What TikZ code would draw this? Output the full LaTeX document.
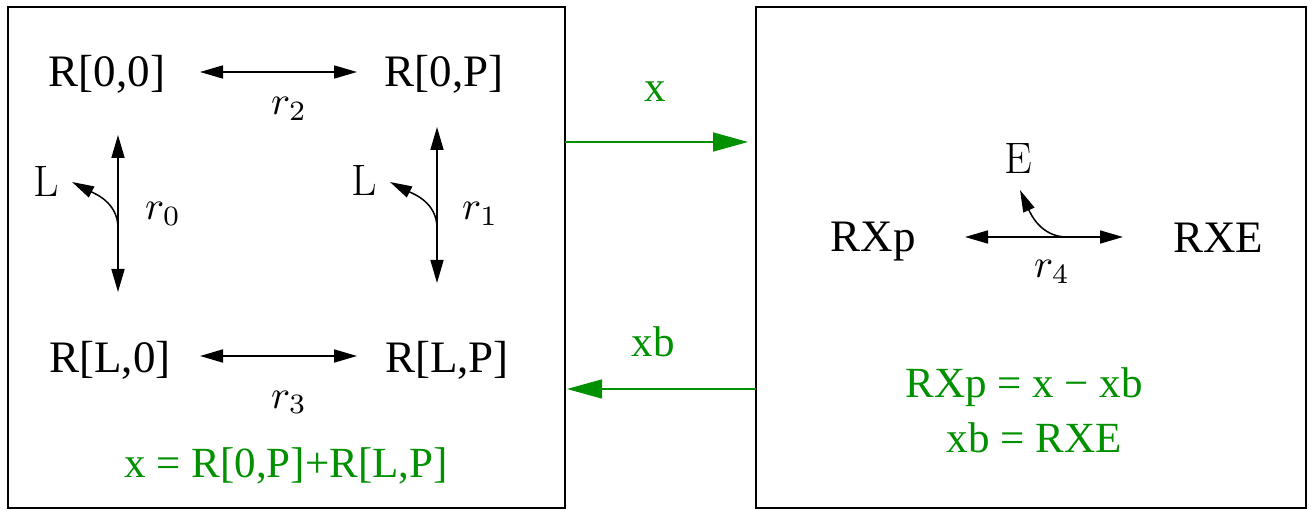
\documentclass[tikz,border=0pt]{standalone}
\usepackage{fontspec}
\setmainfont{Liberation Serif}
\newfontfamily\lmfont{Latin Modern Roman}
\usetikzlibrary{arrows.meta}
\definecolor{grn}{RGB}{0,144,0}
\newcommand{\rlabm}[1]{\scalebox{4}{$#1$}}
\tikzset{
  boxx/.style={draw, line width=1.4pt},
  blab/.style={font=\fontsize{45}{50}\selectfont, inner sep=0pt, anchor=base},
  glab/.style={text=grn, font=\fontsize{43}{48}\selectfont, inner sep=0pt, anchor=base},
  mlab/.style={font=\fontsize{10}{12}\selectfont, inner sep=0pt, anchor=base},
  llab/.style={font=\lmfont\fontsize{44}{48}\selectfont, inner sep=0pt, anchor=base},
  dbl/.style={{Triangle[length=23pt,width=13pt]}-{Triangle[length=23pt,width=13pt]}, line width=1.7pt},
  curv/.style={-{Triangle[length=22pt,width=12pt]}, line width=1.5pt},
  garr/.style={-{Triangle[length=35pt,width=19pt]}, grn, line width=1.5pt}
}
\begin{document}
\begin{tikzpicture}[x=1pt,y=-1pt]
\useasboundingbox (0,0) rectangle (1314,510);
% boxes
\draw[boxx] (8,7) rectangle (565,508);
\draw[boxx] (756,7) rectangle (1306,508);
\coordinate (lboxE1) at (565,142);
\coordinate (rboxW1) at (748,142);
\coordinate (rboxW2) at (756,389);
\coordinate (lboxE2) at (567,389);
% left box nodes
\node[blab] (R00) at (107,87) {R[0,0]};
\node[blab] (R0P) at (444,87) {R[0,P]};
\node[blab] (RL0) at (110,372) {R[L,0]};
\node[blab] (RLP) at (447,372) {R[L,P]};
% horizontal reactions
\coordinate (h2a) at (200,72); \coordinate (h2b) at (357,72);
\coordinate (h3a) at (200,356); \coordinate (h3b) at (357,356);
\draw[dbl] (h2a) -- (h2b);
\draw[dbl] (h3a) -- (h3b);
\node[mlab] (r2) at (289,115) {\rlabm{r_2}};
\node[mlab] (r3) at (289,408) {\rlabm{r_3}};
% vertical reactions
\coordinate (v0a) at (118,135); \coordinate (v0b) at (118,292);
\coordinate (v0m) at (118,228); \coordinate (L0t) at (72,182);
\draw[dbl] (v0a) -- (v0b);
\draw[curv] (v0m) to[out=90,in=-27] (L0t);
\node[llab] (L0) at (46,197) {L};
\node[mlab, anchor=base west] (r0) at (145,220) {\rlabm{r_0}};
\coordinate (v1a) at (437,127); \coordinate (v1b) at (437,283);
\coordinate (v1m) at (437,228); \coordinate (L1t) at (390,182);
\draw[dbl] (v1a) -- (v1b);
\draw[curv] (v1m) to[out=90,in=-27] (L1t);
\node[llab] (L1) at (364,196) {L};
\node[mlab, anchor=base west] (r1) at (462,220) {\rlabm{r_1}};
\node[glab] (g1) at (286,477) {x = R[0,P]+R[L,P]};
% right box
\node[blab] (RXp) at (873,252) {RXp};
\node[blab] (RXE) at (1218,253) {RXE};
\coordinate (h4a) at (965,237); \coordinate (h4b) at (1123,237);
\coordinate (h4m) at (1067,237); \coordinate (Et) at (1020,190);
\draw[dbl] (h4a) -- (h4b);
\draw[curv] (h4m) to[out=180,in=-66] (Et);
\node[llab] (E) at (1018,174) {E};
\node[mlab] (r4) at (1052,278) {\rlabm{r_4}};
\node[glab] (g2) at (1024,397) {RXp = x \textminus{} xb};
\node[glab] (g3) at (1034,452) {xb = RXE};
% transfer arrows
\draw[garr] (lboxE1) -- (rboxW1);
\draw[garr] (rboxW2) -- (lboxE2);
\node[glab] (xl) at (655,102) {x};
\node[glab] (xbl) at (653,357) {xb};
\end{tikzpicture}
\end{document}
